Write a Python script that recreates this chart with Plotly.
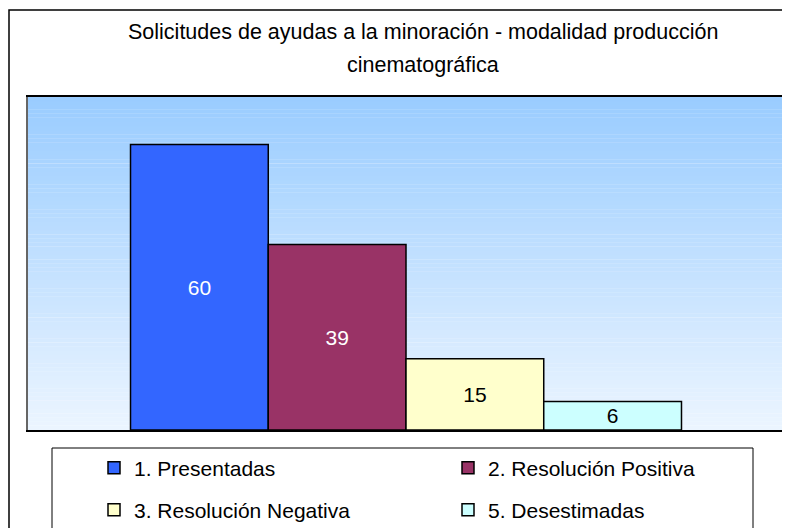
import plotly.graph_objects as go

# ---- data ----
categories = [""]
series_names = ["1. Presentadas", "2. Resolución Positiva", "3. Resolución Negativa", "5. Desestimadas"]
series_values = [60, 39, 15, 6]
series_colors = ["#3366FF", "#993366", "#FFFFCC", "#CCFFFF"]
label_colors = ["white", "white", "black", "black"]
title_lines = ["Solicitudes de ayudas a la minoración - modalidad producción", "cinematográfica"]

# page has an 8px body margin: figure is placed at (8, 8)
OFF = 8
W, H = 782, 520
L, R, T, B = 20, 6, 89, 98
FONT = "Liberation Sans, Arial, sans-serif"

legend_ids = ["legend", "legend2", "legend3", "legend4"]

fig = go.Figure()
for i, (name, val, col, lc) in enumerate(zip(series_names, series_values, series_colors, label_colors)):
    fig.add_trace(go.Bar(
        x=categories, y=[val], name=name,
        marker=dict(color=col, line=dict(color="black", width=1.5)),
        text=[val], texttemplate="%{text}", textposition="inside",
        insidetextanchor="middle", constraintext="none", textangle=0,
        textfont=dict(color=lc, size=21, family=FONT),
        legend=legend_ids[i],
        hoverinfo="skip",
    ))

# vertical gradient background for the plot area
top = (0x99, 0xCC, 0xFF)
bot = (0xEC, 0xF5, 0xFF)
N = 80
shapes = []
for k in range(N):
    f = (k + 0.5) / N
    c = tuple(round(bot[j] + (top[j] - bot[j]) * f) for j in range(3))
    shapes.append(dict(type="rect", xref="x domain", yref="y domain",
                       x0=0, x1=1, y0=k / N, y1=min(1, (k + 1.05) / N),
                       fillcolor="rgb(%d,%d,%d)" % c, line=dict(width=0), layer="below"))

def px_x(p):  # page pixel -> paper x
    return (p - OFF - L) / (W - L - R)

def px_y(p):  # page pixel -> paper y
    return (H - B - (p - OFF)) / (H - T - B)

# outer chart border
shapes.append(dict(type="rect", xref="paper", yref="paper",
                   x0=px_x(9), x1=px_x(800), y0=px_y(545), y1=px_y(10),
                   line=dict(color="black", width=1.5), fillcolor="rgba(0,0,0,0)", layer="above"))
# legend border
shapes.append(dict(type="rect", xref="paper", yref="paper",
                   x0=px_x(52), x1=px_x(753), y0=px_y(545), y1=px_y(448),
                   line=dict(color="black", width=1), fillcolor="rgba(0,0,0,0)", layer="above"))

annotations = [
    dict(text=title_lines[0], xref="paper", yref="paper", x=px_x(423), y=px_y(32),
         xanchor="center", yanchor="middle", showarrow=False, font=dict(size=21.5, family=FONT, color="black")),
    dict(text=title_lines[1], xref="paper", yref="paper", x=px_x(423), y=px_y(65),
         xanchor="center", yanchor="middle", showarrow=False, font=dict(size=21.5, family=FONT, color="black")),
]

leg_common = dict(orientation="h", xanchor="left", yanchor="middle",
                  font=dict(size=21, family=FONT, color="black"),
                  bgcolor="rgba(0,0,0,0)", borderwidth=0)
leg_pos = [(94, 468), (448, 468), (94, 510), (448, 510)]
legends = {lid: dict(x=px_x(px), y=px_y(py), **leg_common) for lid, (px, py) in zip(legend_ids, leg_pos)}

fig.update_layout(
    width=W, height=H,
    margin=dict(l=L, r=R, t=T, b=B, pad=0, autoexpand=False),
    paper_bgcolor="white", plot_bgcolor="rgba(0,0,0,0)",
    barmode="group", bargap=0.2712, bargroupgap=0,
    showlegend=True,
    shapes=shapes, annotations=annotations,
    font=dict(family=FONT),
    **legends,
)
fig.update_xaxes(range=[-0.5, 0.5], showticklabels=False, showgrid=False, zeroline=False,
                 showline=True, linecolor="black", linewidth=1.5, mirror=True, ticks="")
fig.update_yaxes(range=[0, 70], showticklabels=False, showgrid=False, zeroline=False,
                 showline=True, linecolor="#666666", linewidth=1.5, mirror=True, ticks="")

fig.write_html("out.html")
